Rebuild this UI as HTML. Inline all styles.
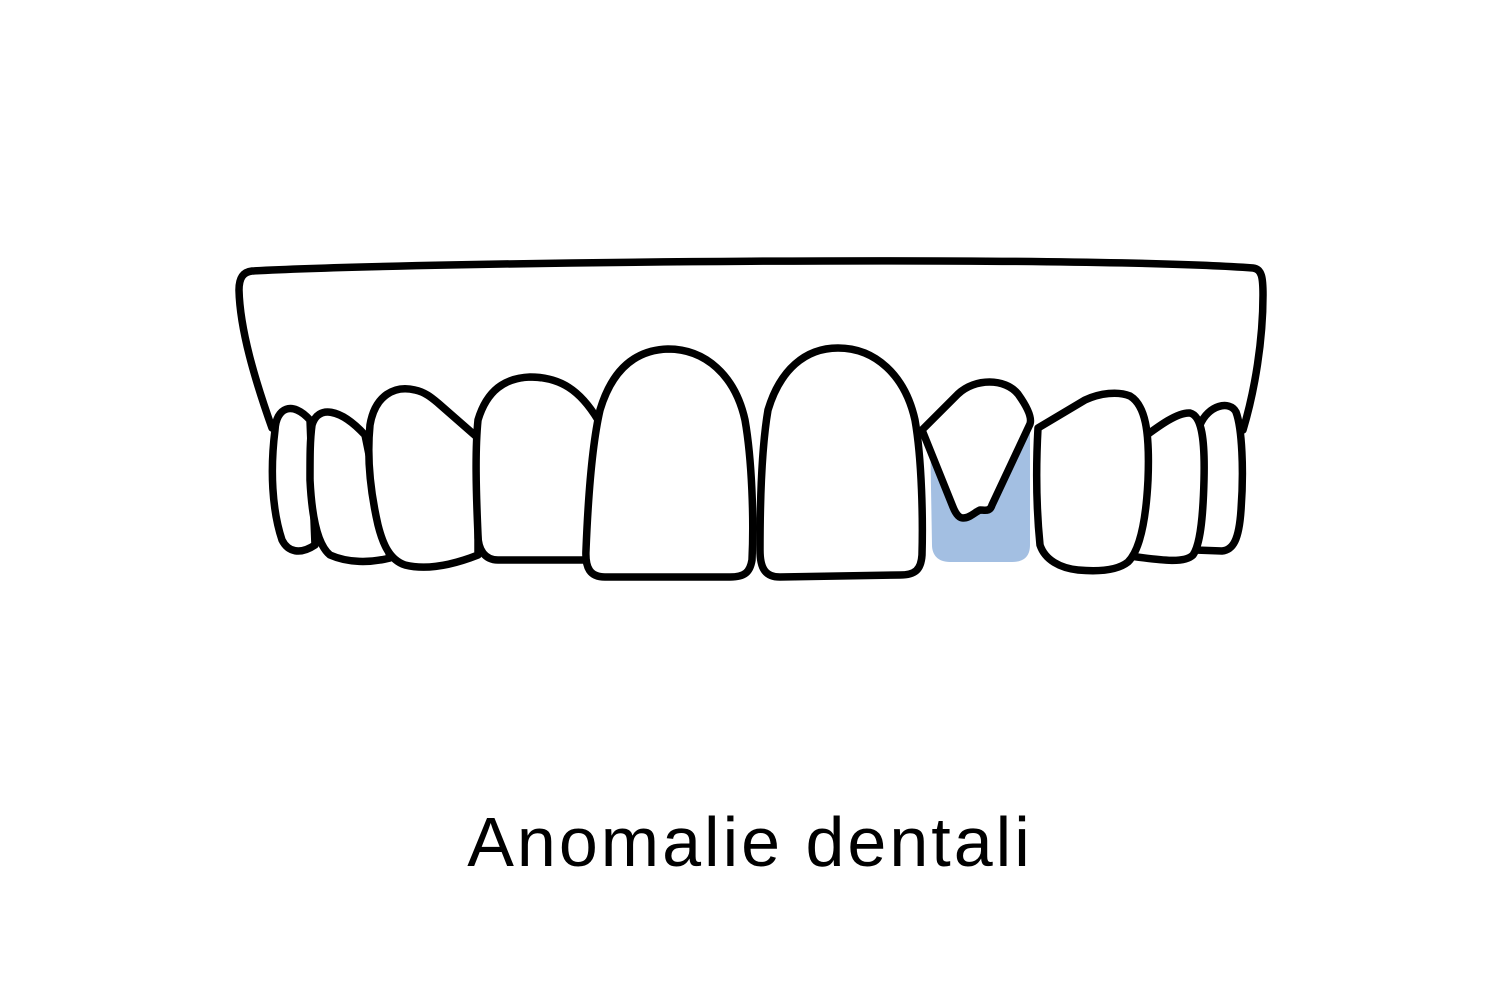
<!DOCTYPE html>
<html><head><meta charset="utf-8"><style>
html,body{margin:0;padding:0;background:#fff;width:1500px;height:1000px;overflow:hidden}
svg{position:absolute;left:0;top:0}
.t{position:absolute;left:0;width:1500px;top:802px;text-align:center;font-family:"Liberation Sans",sans-serif;font-size:70px;color:#000;letter-spacing:3px}
</style></head><body>
<svg width="1500" height="1000" viewBox="0 0 1500 1000" fill="#fff" stroke="#000" stroke-width="7.5" stroke-linejoin="round" stroke-linecap="round">
<path d="M272,428 C255,380 240,330 239,290 C239,278 243,272 252,271 C420,262 1080,255 1253,268 C1262,269 1263,278 1263,295 C1263,340 1255,390 1243,430"/>
<path d="M930,430 L1030,420 L1030,545 C1030,558 1022,562 1012,562 L950,562 C938,562 932,555 932,545 Z" fill="#a3bfe2" stroke="none"/>
<path d="M275,430 C276,408 292,400 310,420 L315,545 C300,555 288,552 282,540 C272,510 270,470 275,430 Z"/>
<path d="M312,425 C318,405 340,408 365,435 L390,558 C370,563 348,563 330,555 C318,545 312,520 310,480 C310,455 310,440 312,425 Z"/>
<path d="M370,425 C375,395 395,385 415,390 C425,392 432,398 438,403 L478,438 L478,555 C450,566 425,570 405,565 C390,560 383,545 378,525 C370,490 367,455 370,425 Z"/>
<path d="M478,420 C487,390 505,378 530,377 C560,377 580,390 598,420 L590,560 L498,560 C485,560 478,550 478,535 C476,490 475,450 478,420 Z"/>
<path d="M600,410 C612,370 635,350 668,349 C705,349 735,375 745,420 C752,460 754,520 752,560 C750,572 745,577 730,577 L605,577 C590,577 585,568 586,550 C588,500 592,445 600,410 Z"/>
<path d="M768,410 C780,370 805,348 838,348 C875,348 905,375 915,420 C922,460 923,520 922,555 C921,570 915,575 900,575 L780,577 C765,577 760,568 760,550 C760,500 762,445 768,410 Z"/>
<path d="M922,430 L958,394 C975,378 1005,378 1018,394 C1028,408 1032,418 1030,424 L992,505 C990,512 985,510 980,510 C975,512 970,518 963,518 C958,518 955,512 953,507 Z"/>
<!-- R2 -->
<path d="M1200,425 C1208,405 1230,400 1236,412 C1242,428 1244,470 1241,510 C1239,540 1233,550 1222,551 L1195,550 Z"/>
<!-- R3 -->
<path d="M1140,440 C1160,425 1178,412 1190,413 C1202,416 1205,440 1204,480 C1203,520 1200,545 1193,555 C1185,563 1165,561 1130,556 Z"/>
<!-- R4 -->
<path d="M1038,428 L1085,400 C1100,393 1118,391 1130,396 C1145,405 1150,430 1148,480 C1146,520 1140,550 1128,562 C1118,570 1100,572 1078,570 C1060,568 1045,560 1040,545 C1036,505 1036,465 1038,428 Z"/>
</svg>
<div class="t">Anomalie dentali</div>
</body></html>
